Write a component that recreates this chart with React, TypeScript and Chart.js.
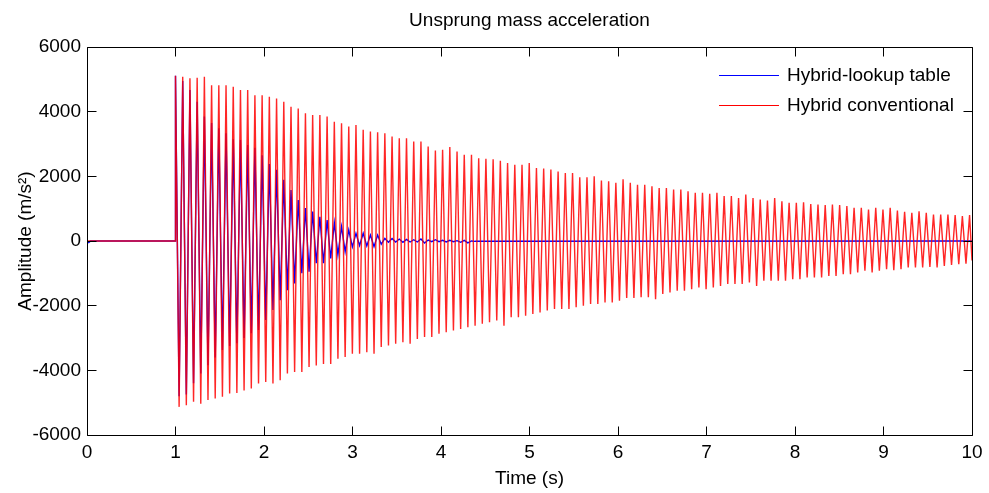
import React, { useEffect, useRef } from "react";
import { Chart, registerables } from "chart.js";

Chart.register(...registerables);

// ---- text ----
const TITLE = "Unsprung mass acceleration";
const X_LABEL = "Time (s)";
const Y_LABEL = "Amplitude (m/s²)";
const SERIES_NAMES = ["Hybrid-lookup table", "Hybrid conventional"];
const LEGEND_COLORS = ["#0000ff", "#ff0000"];

// ---- axes ----
const X_TICKS = [0, 1, 2, 3, 4, 5, 6, 7, 8, 9, 10];
const Y_TICKS = [-6000, -4000, -2000, 0, 2000, 4000, 6000];

// ---- signal timing (read from peak spacing) ----
const ONSET_TIME = 1.0; // s, step input
const PERIOD = 0.08157; // s, spacing between successive maxima
const END_TIME = 10;

// ---- Hybrid conventional: successive maxima / minima (m/s^2) ----
const RED_TOPS = [
  5110, 5080, 5030, 5050, 5080, 4820, 4820, 4820, 4770, 4670,
  4670, 4510, 4510, 4460, 4410, 4310, 4150, 4100, 3950, 3900,
  3900, 3850, 3690, 3640, 3540, 3590, 3440, 3390, 3360, 3330,
  3230, 3180, 3180, 3080, 3080, 2920, 2800, 2820, 2910, 2770,
  2670, 2670, 2560, 2540, 2530, 2480, 2410, 2360, 2360, 2410,
  2260, 2240, 2210, 2150, 2100, 2100, 1970, 1970, 2000, 1870,
  1850, 1800, 1910, 1800, 1740, 1740, 1690, 1640, 1640, 1590,
  1590, 1540, 1490, 1490, 1460, 1490, 1390, 1390, 1330, 1440,
  1330, 1280, 1250, 1330, 1230, 1180, 1180, 1200, 1140, 1130,
  1110, 1130, 1110, 1080, 1030, 1030, 970, 1030, 970, 1030,
  940, 900, 870, 920, 870, 820, 820, 820, 800, 770, 800,
];
const RED_BOTTOMS = [
  -5130, -5080, -4970, -5030, -4920, -4870, -4820, -4720, -4700, -4620,
  -4560, -4410, -4360, -4410, -4310, -4100, -4050, -4050, -3900, -3850,
  -3800, -3800, -3640, -3590, -3490, -3490, -3440, -3490, -3280, -3230,
  -3180, -3130, -3180, -3030, -2970, -2970, -2870, -2820, -2770, -2720,
  -2670, -2620, -2560, -2510, -2460, -2620, -2360, -2360, -2310, -2260,
  -2210, -2150, -2100, -2100, -2100, -2050, -2000, -1950, -1950, -1900,
  -1900, -1850, -1760, -1760, -1740, -1740, -1800, -1640, -1590, -1540,
  -1540, -1490, -1440, -1490, -1440, -1390, -1330, -1330, -1330, -1280,
  -1390, -1230, -1230, -1230, -1230, -1180, -1180, -1130, -1130, -1130,
  -1080, -1080, -1030, -1030, -970, -920, -970, -920, -870, -900,
  -870, -820, -820, -820, -800, -820, -770, -740, -720, -700,
];
const RED_END_VALUE = -600;
const RED_LEAD_TIMES: number[] = [];
const RED_LEAD_VALUES: number[] = [];

// ---- Hybrid-lookup table: successive maxima / minima (m/s^2) ----
const BLUE_TOPS = [
  5110, 4950, 4670, 4310, 3850, 3650, 3490, 3330, 3150, 3120,
  2970, 2880, 2650, 2380, 2200, 1890, 1580, 1270, 1020, 910,
  750, 650, 560, 440, 340, 240, 240, 185, 185, 80,
  80, 60, 50, 40, 60, 30, 40, 20, 20, 10,
  20, 0,
];
const BLUE_BOTTOMS = [
  -4800, -4750, -4400, -4100, -3840, -3600, -3370, -3250, -3160, -3000,
  -2850, -2750, -2440, -2130, -1830, -1520, -1310, -1000, -950, -690,
  -690, -540, -430, -330, -180, -140, -150, -175, -100, -40,
  -30, -40, -30, -30, -60, -20, -20, -30, -20, -40,
  -60, -10,
];
const BLUE_END_VALUE = 0;
const BLUE_LEAD_TIMES = [0.02, 0.04];
const BLUE_LEAD_VALUES = [-50, 0];

type Pt = { x: number; y: number };

function buildSeries(
  leadT: number[],
  leadV: number[],
  tops: number[],
  bottoms: number[],
  endValue: number
): Pt[] {
  const pts: Pt[] = [{ x: 0, y: 0 }];
  leadT.forEach((t, i) => pts.push({ x: t, y: leadV[i] }));
  pts.push({ x: ONSET_TIME, y: 0 });
  const n = Math.max(tops.length, bottoms.length);
  for (let k = 0; k < n; k++) {
    if (k < tops.length) pts.push({ x: ONSET_TIME + k * PERIOD, y: tops[k] });
    if (k < bottoms.length)
      pts.push({ x: ONSET_TIME + (k + 0.5) * PERIOD, y: bottoms[k] });
  }
  pts.push({ x: END_TIME, y: endValue });
  return pts;
}

const FONT_FAMILY = '"Liberation Sans", Arial, Helvetica, sans-serif';
const FONT_SIZE = 19;

const matlabAxes = {
  id: "matlabAxes",
  afterDatasetsDraw(chart: any) {
    const { ctx, chartArea, scales } = chart;
    const xs = scales.x;
    const ys = scales.y;
    const L = Math.floor(chartArea.left) + 0.5;
    const R = Math.floor(chartArea.right) + 0.5;
    const T = Math.floor(chartArea.top) + 0.5;
    const B = Math.floor(chartArea.bottom) + 0.5;
    const len = 9;
    ctx.save();
    ctx.strokeStyle = "#000";
    ctx.lineWidth = 1;
    ctx.beginPath();
    ctx.rect(L, T, R - L, B - T);
    X_TICKS.forEach((v) => {
      const px = Math.floor(xs.getPixelForValue(v)) + 0.5;
      ctx.moveTo(px, B);
      ctx.lineTo(px, B - len);
      ctx.moveTo(px, T);
      ctx.lineTo(px, T + len);
    });
    Y_TICKS.forEach((v) => {
      const py = Math.floor(ys.getPixelForValue(v)) + 0.5;
      ctx.moveTo(L, py);
      ctx.lineTo(L + len, py);
      ctx.moveTo(R, py);
      ctx.lineTo(R - len, py);
    });
    ctx.stroke();

    // legend (no box), top-right inside axes
    ctx.font = `${FONT_SIZE}px ${FONT_FAMILY}`;
    ctx.textBaseline = "middle";
    ctx.textAlign = "left";
    const right = chartArea.right;
    const top = chartArea.top;
    chart.data.datasets.forEach((ds: any, i: number) => {
      const y = top + 28 + i * 30;
      ctx.strokeStyle = LEGEND_COLORS[i];
      ctx.beginPath();
      ctx.moveTo(right - 253, Math.floor(y) + 0.5);
      ctx.lineTo(right - 193, Math.floor(y) + 0.5);
      ctx.stroke();
      ctx.fillStyle = "#000";
      ctx.fillText(ds.label, right - 185, y + 1);
    });
    ctx.restore();
  },
};

export default function App() {
  const canvasRef = useRef<HTMLCanvasElement | null>(null);

  useEffect(() => {
    const canvas = canvasRef.current;
    if (!canvas) return;
    const blue = buildSeries(
      BLUE_LEAD_TIMES,
      BLUE_LEAD_VALUES,
      BLUE_TOPS,
      BLUE_BOTTOMS,
      BLUE_END_VALUE
    );
    const red = buildSeries(
      RED_LEAD_TIMES,
      RED_LEAD_VALUES,
      RED_TOPS,
      RED_BOTTOMS,
      RED_END_VALUE
    );
    const chart = new Chart(canvas, {
      type: "line",
      data: {
        datasets: [
          {
            label: SERIES_NAMES[0],
            data: blue,
            borderColor: "rgba(0,0,255,1)",
            borderWidth: 1.4,
            pointRadius: 0,
            tension: 0,
            order: 1,
          },
          {
            label: SERIES_NAMES[1],
            data: red,
            borderColor: "rgba(255,0,0,0.85)",
            borderWidth: 1.4,
            pointRadius: 0,
            tension: 0,
            order: 0,
          },
        ],
      },
      options: {
        responsive: false,
        animation: false,
        devicePixelRatio: 1,
        layout: { padding: { left: 0, right: 17, top: 0, bottom: 0 } },
        plugins: {
          legend: { display: false },
          tooltip: { enabled: false },
          title: {
            display: true,
            text: TITLE,
            fullSize: false,
            color: "#000",
            font: { family: FONT_FAMILY, size: FONT_SIZE, weight: "normal" },
            padding: { top: 9, bottom: 15.2 },
          },
        },
        scales: {
          x: {
            type: "linear",
            min: 0,
            max: 10,
            grid: { display: false, drawTicks: false },
            border: { display: false },
            ticks: {
              stepSize: 1,
              padding: 6,
              color: "#000",
              font: { family: FONT_FAMILY, size: FONT_SIZE },
              maxRotation: 0,
              autoSkip: false,
              callback: (v: any) => String(v),
            },
            title: {
              display: true,
              text: X_LABEL,
              color: "#000",
              font: { family: FONT_FAMILY, size: FONT_SIZE },
              padding: { top: 0, bottom: 3 },
            },
            afterFit: (scale: any) => {
              scale.height = 58;
            },
          },
          y: {
            type: "linear",
            min: -6000,
            max: 6000,
            grid: { display: false, drawTicks: false },
            border: { display: false },
            ticks: {
              stepSize: 2000,
              padding: 6,
              color: "#000",
              font: { family: FONT_FAMILY, size: FONT_SIZE },
              autoSkip: false,
              callback: (v: any) => String(v),
            },
            title: {
              display: true,
              text: Y_LABEL,
              color: "#000",
              font: { family: FONT_FAMILY, size: FONT_SIZE },
              padding: { top: 14, bottom: 0 },
            },
            afterFit: (scale: any) => {
              scale.width = 87;
            },
          },
        },
      },
      plugins: [matlabAxes],
    });
    return () => chart.destroy();
  }, []);

  return (
    <div
      style={{
        position: "absolute",
        left: 0,
        top: 0,
        width: 989,
        height: 493,
        background: "#fff",
      }}
    >
      <canvas
        ref={canvasRef}
        width={989}
        height={493}
        style={{ display: "block", width: 989, height: 493 }}
      />
    </div>
  );
}
